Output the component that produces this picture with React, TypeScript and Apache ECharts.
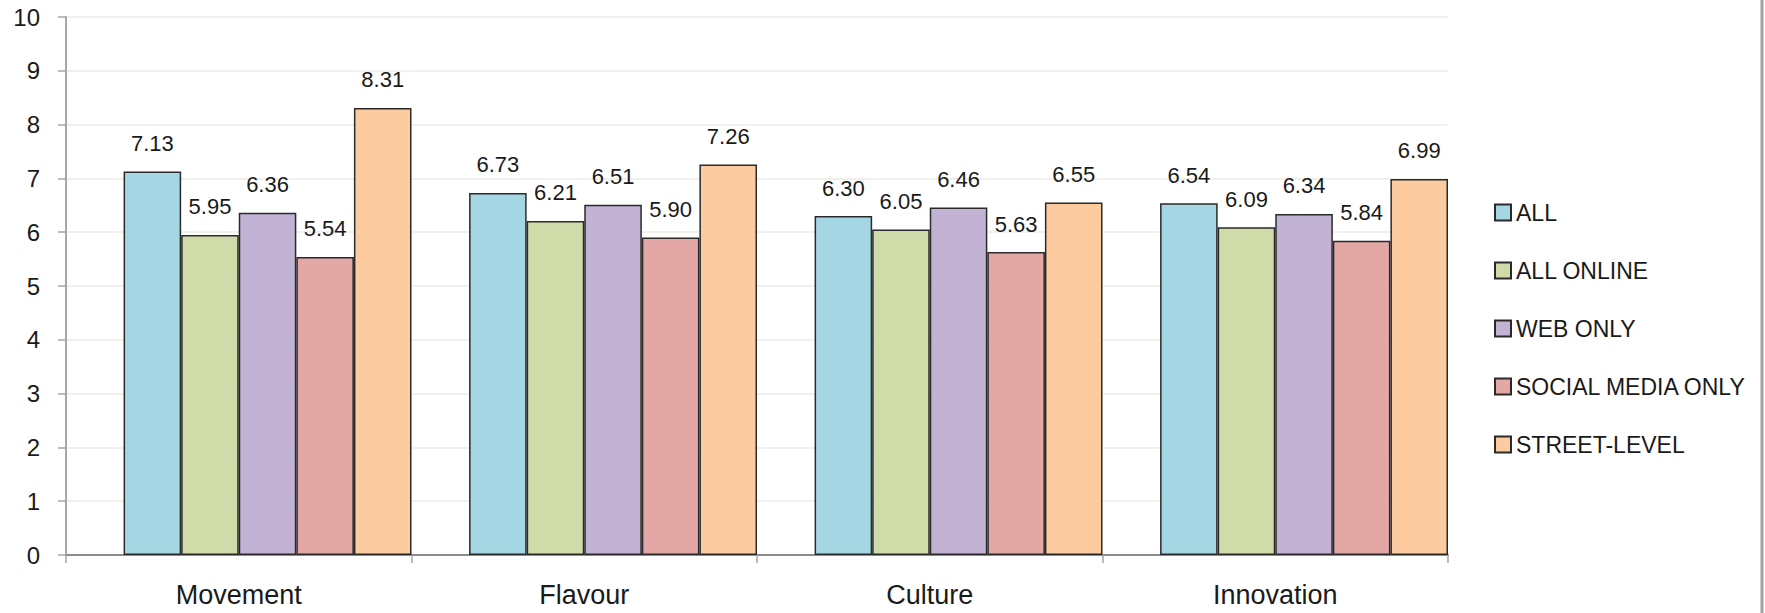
import React, { useEffect, useRef } from "react";
import * as echarts from "echarts";

const categories = ["Movement", "Flavour", "Culture", "Innovation"];
const seriesNames = ["ALL", "ALL ONLINE", "WEB ONLY", "SOCIAL MEDIA ONLY", "STREET-LEVEL"];
const allValues = [7.13, 6.73, 6.3, 6.54];
const allOnlineValues = [5.95, 6.21, 6.05, 6.09];
const webOnlyValues = [6.36, 6.51, 6.46, 6.34];
const socialValues = [5.54, 5.9, 5.63, 5.84];
const streetValues = [8.31, 7.26, 6.55, 6.99];
const yTicks = [0, 1, 2, 3, 4, 5, 6, 7, 8, 9, 10];

const seriesValues = [allValues, allOnlineValues, webOnlyValues, socialValues, streetValues];
const colors = ["#a5d6e3", "#cfdca9", "#c2b3d5", "#e3a7a6", "#fccb9f"];

const FONT = "'Liberation Sans', Arial, sans-serif";

export default function App() {
  const ref = useRef<HTMLDivElement>(null);
  useEffect(() => {
    if (!ref.current) return;
    const chart = echarts.init(ref.current, undefined, { renderer: "svg" });
    const bars = seriesValues.map((vals, i) => ({
      name: seriesNames[i],
      type: "bar",
      data: vals,
      barGap: "0%",
      barCategoryGap: "0%",
      itemStyle: { color: colors[i], borderColor: "#2a2a2a", borderWidth: 1.5 },
      label: {
        show: true,
        position: "top",
        distance: 17,
        formatter: (p: any) => Number(p.value).toFixed(2),
        fontFamily: FONT,
        fontSize: 22,
        color: "#1a1a1a",
      },
    }));
    chart.setOption({
      animation: false,
      textStyle: { fontFamily: FONT },
      grid: { left: 66, right: 317, top: 17, bottom: 58, containLabel: false },
      legend: {
        data: seriesNames,
        orient: "vertical",
        left: 1489,
        top: 196,
        itemWidth: 16,
        itemHeight: 16,
        itemGap: 35,
        icon: "rect",
        textStyle: { fontFamily: FONT, fontSize: 23, color: "#1a1a1a", lineHeight: 16 },
        selectedMode: false,
      },
      xAxis: {
        type: "category",
        data: categories,
        axisLine: { lineStyle: { color: "#8c8c8c", width: 2 } },
        axisTick: { show: true, length: 8, lineStyle: { color: "#a6a6a6", width: 1.5 } },
        axisLabel: { fontFamily: FONT, fontSize: 27, color: "#1a1a1a", margin: 26 },
      },
      yAxis: {
        type: "value",
        min: yTicks[0],
        max: yTicks[yTicks.length - 1],
        interval: 1,
        axisLine: { show: true, lineStyle: { color: "#a6a6a6", width: 2 } },
        axisTick: { show: true, length: 8, lineStyle: { color: "#a6a6a6", width: 1.5 } },
        axisLabel: { fontFamily: FONT, fontSize: 24, color: "#1a1a1a", margin: 26 },
        splitLine: { show: true, lineStyle: { color: "#f2f0ea", width: 2 } },
      },
      graphic: [
        {
          type: "line",
          shape: { x1: 1762, y1: 0, x2: 1762, y2: 613 },
          style: { stroke: "#a0a0a0", lineWidth: 3 },
        },
      ],
      series: [
        { name: "_blank", type: "bar", data: [], barGap: "0%", barCategoryGap: "0%" },
        ...bars,
      ],
    });
    return () => chart.dispose();
  }, []);
  return (
    <div
      ref={ref}
      style={{ position: "fixed", left: 0, top: 0, width: 1765, height: 613, background: "#fff" }}
    />
  );
}
